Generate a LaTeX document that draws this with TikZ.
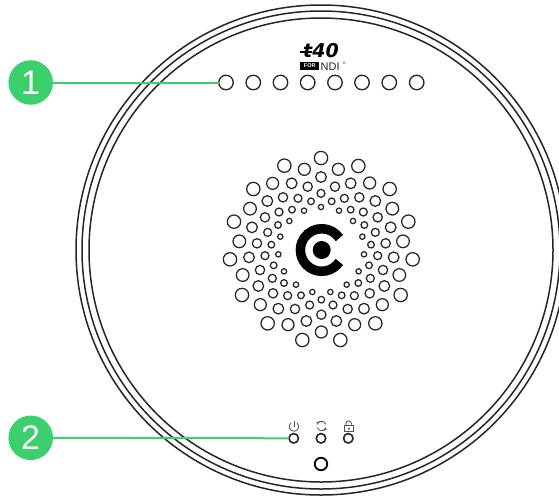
\documentclass[tikz,border=0pt]{standalone}
\usepackage{fontspec}
\setmainfont{Liberation Sans}
\newfontfamily\logofont[BoldFont={DejaVu Sans Bold Oblique}]{DejaVu Sans}
\definecolor{badgegreen}{HTML}{3CCF6E}
\definecolor{ink}{HTML}{262626}
\tikzset{
  ringline/.style={draw=ink,line width=1.5pt},
  badge/.style={circle,fill=badgegreen,minimum size=44.5pt,inner sep=0pt,outer sep=0pt,text=white,font=\fontsize{34}{34}\selectfont},
  lead/.style={draw=badgegreen,line width=2pt},
  ledtop/.style={circle,draw=ink,line width=1.3pt,minimum size=14.5pt,inner sep=0pt,outer sep=0pt},
  ledlow/.style={circle,draw=ink,line width=1.6pt,minimum size=9.5pt,inner sep=0pt,outer sep=0pt},
  ledbig/.style={circle,draw=black,line width=1.8pt,minimum size=12.5pt,inner sep=0pt,outer sep=0pt},
  dotring/.style={draw=ink,line width=1.25pt},
  iconline/.style={draw=ink!80,line width=.8pt},
}
\begin{document}
\begin{tikzpicture}[x=1pt,y=-1pt]
\useasboundingbox (0,0) rectangle (559,498);
\fill[white] (0,0) rectangle (559,498);
\clip (0,0) rectangle (559,498);
% body rings
\foreach \r in {245,239,232}
  \draw[ringline] (321,250) circle [radius=\r];
% speaker pattern (coordinates in 1/3 px)
\begin{scope}[shift={(200,140)},x=0.33333pt,y=-0.33333pt]
\foreach \a/\b/\r in {
363/54/20,253/77/20,313/88/18,415/88/18,475/78/20,363/111/16,218/130/18,275/130/16,452/130/16,509/129/18,
160/147/20,569/147/20,323/140/14,405/140/14,363/160/12,202/183/16,249/172/14,294/175/12,333/184/10,395/184/10,
433/175/12,478/172/14,526/183/16,150/206/19,577/206/19,276/209/10,312/212/8,363/201/8,417/212/8,452/209/10,
237/216/12,490/216/12,195/232/14,533/232/14,102/245/20,625/245/20,268/243/8,459/243/8,234/255/10,493/255/10,
156/262/16,572/262/16,203/277/12,526/277/12,241/290/8,487/290/8,118/304/19,609/304/19,171/310/14,557/310/14,
214/314/10,513/314/10,235/343/8,492/343/8,195/347/12,533/347/12,147/352/16,581/352/16,90/358/20,638/358/20,
221/376/10,507/376/10,180/390/14,549/390/14,252/394/8,476/394/8,128/405/19,598/405/19,217/415/12,511/415/12,
252/429/10,475/429/10,288/434/8,440/434/8,175/438/16,553/438/16,337/456/8,391/456/8,219/460/14,509/460/14,
263/467/12,303/466/10,425/466/10,463/467/12,126/465/20,602/465/20,364/479/10,329/495/12,399/495/12,181/494/18,
547/494/18,235/506/16,285/507/14,443/507/14,492/506/16,364/524/14,319/543/16,409/543/16,203/550/20,264/554/18,
464/554/18,526/550/20,364/576/18,307/600/20,421/600/20}
  \draw[dotring] (\a,\b) circle [radius=\r];
\end{scope}
% centre logo
\draw[black,line width=9.5pt] (321.7,250) ++(34:21.3) arc[start angle=34,end angle=326,radius=21.3];
\fill[black] (321.7,250) circle [radius=9];
% top LEDs
\node[ledtop] (t1) at (226,82.5) {};
\node[ledtop] (t2) at (253.3,82.5) {};
\node[ledtop] (t3) at (280.5,82.5) {};
\node[ledtop] (t4) at (307.7,82.5) {};
\node[ledtop] (t5) at (335,82.5) {};
\node[ledtop] (t6) at (362,82.5) {};
\node[ledtop] (t7) at (389.3,82.5) {};
\node[ledtop] (t8) at (416.7,82.5) {};
% lower LEDs
\node[ledlow] (p1) at (293.7,438.3) {};
\node[ledlow] (p2) at (321,438.3) {};
\node[ledlow] (p3) at (348.3,438.3) {};
\node[ledbig] (hole) at (321,464) {};
% badges
\node[badge] (b1) at (30.7,82.5) {1};
\node[badge] (b2) at (30.7,437.8) {2};
\draw[lead] (b1) -- (t1);
\draw[lead] (b2) -- (p1);
% brand
\node[inner sep=0pt,font=\logofont\bfseries\fontsize{19}{19}\selectfont,text=black] (brand) at (321,50.5) {t40};
\draw[black,line width=1.4pt] (300,52) -- (312,52);
\node[fill=black,text=white,inner sep=0pt,minimum width=19pt,minimum height=8pt,font=\bfseries\fontsize{5.5}{5.5}\selectfont] (forbox) at (309.7,66) {FOR};
\node[inner sep=0pt,anchor=west,font=\fontsize{11}{11}\selectfont,text=ink] (ndi) at (320.5,66.5) {NDI};
\node[inner sep=0pt,anchor=west,font=\fontsize{4}{4}\selectfont,text=ink] (reg) at (342.5,63) {®};
% status icons
\draw[iconline] (294,426.5) ++(-50:4.8) arc[start angle=-50,end angle=230,radius=4.8];
\draw[iconline] (294,420.5) -- (294,426.5);
\draw[iconline] (321.5,426) ++(-20:4.8) arc[start angle=-20,end angle=-160,radius=4.8];
\draw[iconline] (321.5,426) ++(20:4.8) arc[start angle=20,end angle=160,radius=4.8];
\draw[iconline] (316.5,423) -- (319.3,421.6) (326.5,429) -- (323.7,430.4);
\draw[iconline] (344.3,425.5) rectangle (353.2,431.8);
\draw[iconline] (346,425.5) -- (346,423.5) arc[start angle=180,end angle=360,radius=2.7] -- (351.4,424.5);
\fill[ink] (348.8,428.7) circle [radius=1];
\end{tikzpicture}
\end{document}
